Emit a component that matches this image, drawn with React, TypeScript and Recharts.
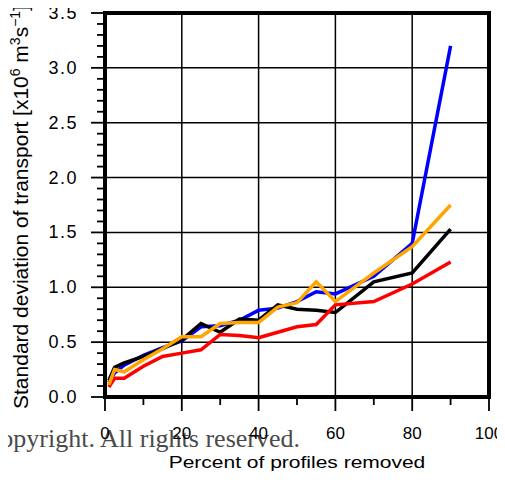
import { LineChart, Line, XAxis, YAxis, ReferenceLine, ReferenceArea } from "recharts";

// percent of profiles removed
const percents = [1, 2.5, 5, 10, 15, 20, 25, 30, 35, 40, 45, 50, 55, 60, 70, 80, 90];

// std of transport for each experiment
const blackSeries = [0.15, 0.27, 0.31, 0.37, 0.44, 0.52, 0.67, 0.59, 0.71, 0.7, 0.84, 0.8, 0.79, 0.77, 1.05, 1.13, 1.53];
const blueSeries = [0.13, 0.22, 0.29, 0.38, 0.45, 0.51, 0.64, 0.65, 0.7, 0.79, 0.81, 0.87, 0.96, 0.94, 1.1, 1.4, 3.2];
const orangeSeries = [0.11, 0.25, 0.23, 0.34, 0.44, 0.55, 0.55, 0.67, 0.68, 0.68, 0.82, 0.86, 1.05, 0.87, 1.13, 1.37, 1.75];
const redSeries = [0.09, 0.17, 0.17, 0.28, 0.37, 0.4, 0.43, 0.57, 0.56, 0.54, 0.59, 0.64, 0.66, 0.84, 0.87, 1.03, 1.23];

const xMajor = [0, 20, 40, 60, 80, 100];
const xTicks = [0, 10, 20, 30, 40, 50, 60, 70, 80, 90, 100];
const yMajor = [0, 0.5, 1, 1.5, 2, 2.5, 3, 3.5];
const yLabels = ["0.0", "0.5", "1.0", "1.5", "2.0", "2.5", "3.0", "3.5"];
const yTicks = [
  0, 0.1, 0.2, 0.3, 0.4, 0.5, 0.6, 0.7, 0.8, 0.9, 1, 1.1, 1.2, 1.3, 1.4, 1.5, 1.6, 1.7,
  1.8, 1.9, 2, 2.1, 2.2, 2.3, 2.4, 2.5, 2.6, 2.7, 2.8, 2.9, 3, 3.1, 3.2, 3.3, 3.4, 3.5,
];

const data = percents.map((p, i) => ({
  p,
  black: blackSeries[i],
  blue: blueSeries[i],
  orange: orangeSeries[i],
  red: redSeries[i],
}));

const FONT = '"Liberation Sans", Arial, Helvetica, sans-serif';
const isXMajor = (v: number) => xMajor.includes(v);
const yMajorIndex = (v: number) => yMajor.findIndex((m) => Math.abs(m - v) < 1e-6);

const BottomTick = (props: any) => {
  const { x, y, payload } = props;
  const major = isXMajor(payload.value);
  return (
    <g>
      <line x1={x} x2={x} y1={y} y2={y + (major ? 14 : 8)} stroke="#000" strokeWidth={1.8} />
      {major && (
        <text x={x} y={y + 42} textAnchor="middle" fontSize={17} fontFamily={FONT} fill="#000">
          {payload.value}
        </text>
      )}
    </g>
  );
};

const TopTick = (props: any) => {
  const { x, y, payload } = props;
  const major = isXMajor(payload.value);
  return <line x1={x} x2={x} y1={y} y2={y - (major ? 14 : 8)} stroke="#000" strokeWidth={1.8} />;
};

const LeftTick = (props: any) => {
  const { x, y, payload } = props;
  const idx = yMajorIndex(payload.value);
  const major = idx >= 0;
  return (
    <g>
      <line x1={x} x2={x - (major ? 14 : 8)} y1={y} y2={y} stroke="#000" strokeWidth={1.8} />
      {major && (
        <text x={x - 27} y={y + 6} textAnchor="end" fontSize={18} letterSpacing={1.5} fontFamily={FONT} fill="#000">
          {yLabels[idx]}
        </text>
      )}
    </g>
  );
};

const RightTick = (props: any) => {
  const { x, y, payload } = props;
  const major = yMajorIndex(payload.value) >= 0;
  return <line x1={x} x2={x + (major ? 14 : 8)} y1={y} y2={y} stroke="#000" strokeWidth={1.8} />;
};

export default function App() {
  return (
    <div style={{ position: "relative", width: 505, height: 480, margin: "-8px -8px 0 -8px", background: "#fff", overflow: "hidden" }}>
      {/* watermark sits under the chart so the tick labels show on top */}
      <svg width={505} height={480} style={{ position: "absolute", left: 0, top: 0, pointerEvents: "none" }}>
        <text x={-17} y={447} fontSize={26} fontFamily='"Liberation Serif", "Times New Roman", serif' fill="#4a4a4a">
          Copyright. All rights reserved.
        </text>
      </svg>
      <LineChart width={505} height={480} data={data} margin={{ top: 13, right: 16, bottom: 53, left: 15 }}>
        <XAxis xAxisId="b" dataKey="p" type="number" domain={[0, 100]} ticks={xTicks} interval={0}
          tickSize={0} tickMargin={0} height={30} axisLine={false} tickLine={false} tick={<BottomTick />} />
        <XAxis xAxisId="t" orientation="top" dataKey="p" type="number" domain={[0, 100]} ticks={xTicks} interval={0}
          tickSize={0} tickMargin={0} height={0} axisLine={false} tickLine={false} tick={<TopTick />} />
        <YAxis yAxisId="l" type="number" domain={[0, 3.5]} ticks={yTicks} interval={0}
          tickSize={0} tickMargin={0} width={90} axisLine={false} tickLine={false} tick={<LeftTick />} />
        <YAxis yAxisId="r" orientation="right" type="number" domain={[0, 3.5]} ticks={yTicks} interval={0}
          tickSize={0} tickMargin={0} width={0} axisLine={false} tickLine={false} tick={<RightTick />} />
        {xMajor.slice(1, -1).map((v) => (
          <ReferenceLine key={`vx${v}`} xAxisId="b" yAxisId="l" x={v} stroke="#000" strokeWidth={1.5} />
        ))}
        {yMajor.slice(1, -1).map((v) => (
          <ReferenceLine key={`hy${v}`} xAxisId="b" yAxisId="l" y={v} stroke="#000" strokeWidth={1.5} />
        ))}
        <Line xAxisId="b" yAxisId="l" dataKey="blue" stroke="#0000ff" strokeWidth={3.5} dot={false} isAnimationActive={false} />
        <Line xAxisId="b" yAxisId="l" dataKey="black" stroke="#000000" strokeWidth={3.5} dot={false} isAnimationActive={false} />
        <Line xAxisId="b" yAxisId="l" dataKey="red" stroke="#ff0000" strokeWidth={3.5} dot={false} isAnimationActive={false} />
        <Line xAxisId="b" yAxisId="l" dataKey="orange" stroke="#ffa500" strokeWidth={3.5} dot={false} isAnimationActive={false} />
        <ReferenceArea xAxisId="b" yAxisId="l" x1={0} x2={100} y1={0} y2={3.5}
          fill="none" fillOpacity={0} stroke="#000" strokeWidth={4} />
      </LineChart>
      <svg width={505} height={480} style={{ position: "absolute", left: 0, top: 0, pointerEvents: "none" }}>
        <text transform="translate(297,468) scale(1,0.8)" textAnchor="middle" fontSize={21} fontFamily={FONT} fill="#000">
          Percent of profiles removed
        </text>
        <text transform="translate(28,207) rotate(-90)" textAnchor="middle" fontSize={21} fontFamily={FONT} fill="#000">
          Standard deviation of transport [x10
          <tspan dy={-8} fontSize={14}>6</tspan>
          <tspan dy={8}> m</tspan>
          <tspan dy={-8} fontSize={14}>3</tspan>
          <tspan dy={8}>s</tspan>
          <tspan dy={-8} fontSize={14}>−1</tspan>
          <tspan dy={8}>]</tspan>
        </text>
      </svg>
    </div>
  );
}
